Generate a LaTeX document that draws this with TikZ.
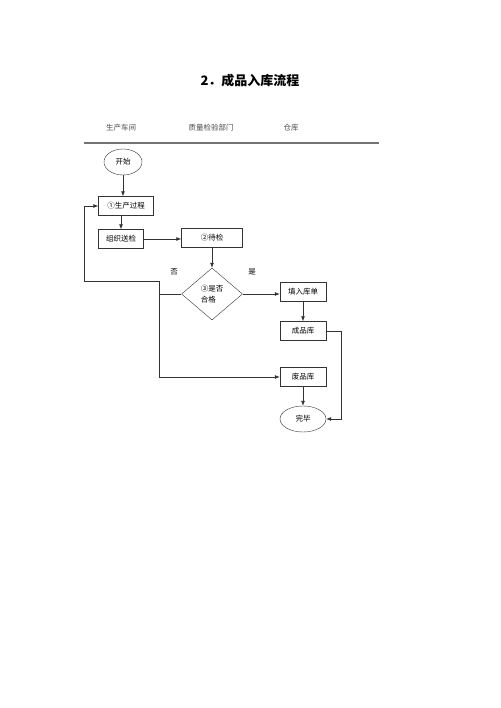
\documentclass[tikz,border=0pt]{standalone}
\usepackage{fontspec}
\newfontfamily\cjk{Noto Sans CJK SC}
\usetikzlibrary{shapes.geometric,arrows.meta}
\tikzset{
  box/.style={draw=black!80, minimum height=19pt, inner sep=1pt, font=\cjk\fontsize{7.5}{9}\selectfont},
  oval/.style={ellipse, draw=black!80, minimum height=26pt, inner sep=1pt, font=\cjk\fontsize{7.5}{9}\selectfont},
  link/.style={draw=black!80, line width=0.7pt, -{Latex[length=5pt,width=4pt]}},
  plain/.style={draw=black!80, line width=0.7pt},
  lane/.style={font=\cjk\fontsize{7.5}{9}\selectfont, text=black!70}
}
\begin{document}
\begin{tikzpicture}[x=1pt,y=-1pt]
\useasboundingbox (0,0) rectangle (500,708);
% title and lanes
\node (title) at (250,81) {\cjk\bfseries\fontsize{13}{15}\selectfont 2．成品入库流程};
\node [lane] (l1) at (121,128) {生产车间};
\node [lane] (l2) at (211,128) {质量检验部门};
\node [lane] (l3) at (291,128) {仓库};
\draw [black!55, line width=1.2pt] (84,143) -- (379,143);
% nodes
\node [oval, minimum width=38pt] (start) at (123,162) {开始};
\node [box, minimum width=55pt] (prod) at (126,206) {①生产过程};
\node [box, minimum width=45pt] (send) at (121,239) {组织送检};
\node [box, minimum width=61pt] (wait) at (212,238) {②待检};
\node [diamond, draw=black!80, minimum width=61pt, minimum height=52pt, inner sep=0pt, align=left,
       font=\cjk\fontsize{7.5}{11}\selectfont] (check) at (212,294) {③是否\\合格};
\node [lane, text=black] (no) at (174,272) {否};
\node [lane, text=black] (yes) at (252,272) {是};
\node [box, minimum width=46pt] (form) at (303,292) {填入库单};
\node [box, minimum width=46pt] (good) at (303,331) {成品库};
\node [box, minimum width=46pt] (bad) at (303,377) {废品库};
\node [oval, minimum width=46pt] (done) at (303,419) {完毕};
% connectors
\coordinate (j1) at (159,294);
\coordinate (j2) at (159,281);
\coordinate (j3) at (84,281);
\draw [link] (start) -- (start |- prod.north);
\draw [link] (prod.south -| send) -- (send.north);
\draw [link] (send.east) -- (wait.west |- send.east);
\draw [link] (wait) -- (check.north);
\draw [link] (check.east) -- (form.west |- check.east);
\draw [link] (form) -- (good);
\draw [link] (bad) -- (done);
\draw [link] (good.east) -- ++(15,0) |- (done.east);
\draw [plain] (check.west) -- (j1) -- (j2) -- (j3);
\draw [link] (j3) |- (prod.west);
\draw [link] (j1) |- (bad.west);
\end{tikzpicture}
\end{document}
